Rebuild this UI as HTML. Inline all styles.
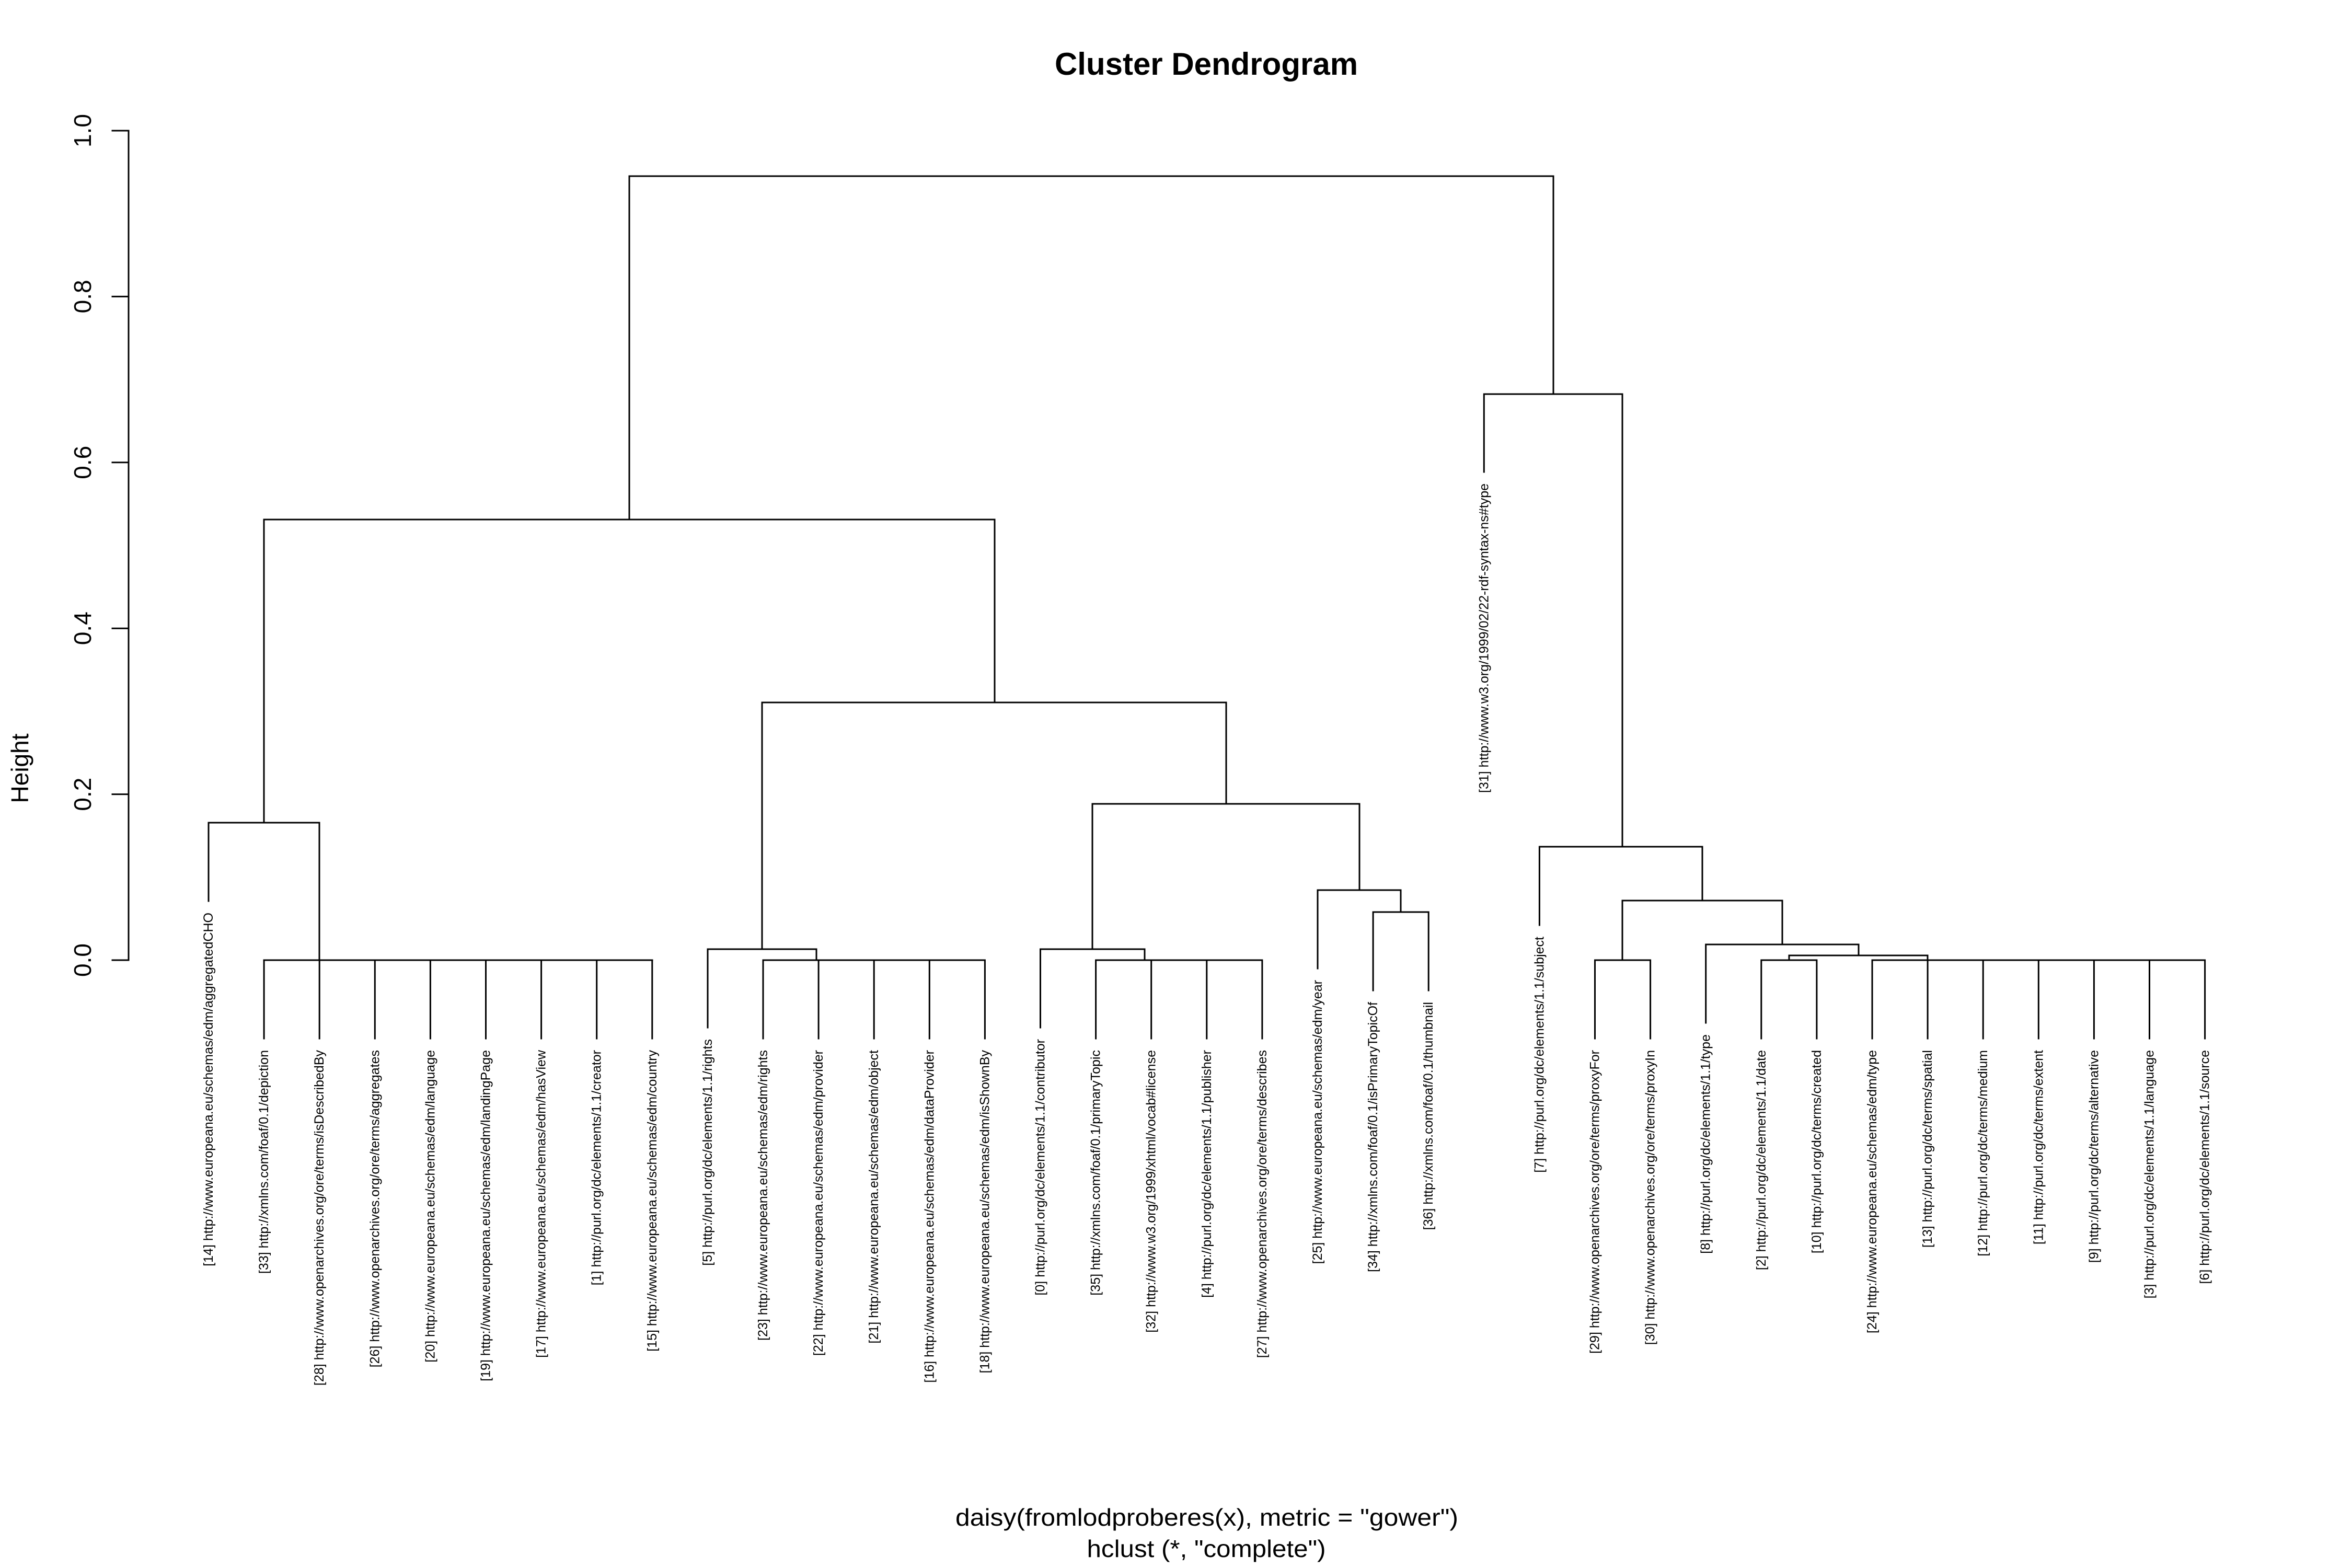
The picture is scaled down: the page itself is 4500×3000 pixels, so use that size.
<!DOCTYPE html>
<html><head><meta charset="utf-8"><style>
html,body{margin:0;padding:0;background:#fff;}
svg{display:block;}
text{font-family:"Liberation Sans",Arial,sans-serif;fill:#000;}
.lf{font-size:25px;}
</style></head><body>
<svg width="4500" height="3000" viewBox="0 0 4500 3000" xmlns="http://www.w3.org/2000/svg">
<rect width="4500" height="3000" fill="#fff"/>
<text x="2308" y="143" font-size="60" font-weight="bold" text-anchor="middle">Cluster Dendrogram</text>
<g stroke="#000" stroke-width="3" fill="none" stroke-linecap="square">
<!-- axis -->
<path d="M246 250V1837 M215 250H246 M215 567.4H246 M215 884.8H246 M215 1202.2H246 M215 1519.6H246 M215 1837H246"/>
<!-- left cluster -->
<path d="M505 1837H1248 M505.1 1837V1987 M611.2 1837V1987 M717.3 1837V1987 M823.4 1837V1987 M929.5 1837V1987 M1035.6 1837V1987 M1141.7 1837V1987 M1247.8 1837V1987"/>
<path d="M611 1837V1574 M399 1574H611 M399 1574V1724 M505 1574V994"/>
<!-- B -->
<path d="M1460 1837H1884.4 M1460 1837V1987 M1566.1 1837V1987 M1672.2 1837V1987 M1778.3 1837V1987 M1884.4 1837V1987 M1562 1837V1816 M1354 1816H1562 M1354 1816V1966 M1458 1816V1344"/>
<!-- C -->
<path d="M2096.6 1837H2414.9 M2096.6 1837V1987 M2202.7 1837V1987 M2308.8 1837V1987 M2414.9 1837V1987 M2190 1837V1816 M1990.5 1816H2190 M1990.5 1816V1966 M2090 1816V1538"/>
<!-- D -->
<path d="M2627.1 1745H2733.2 M2627.1 1745V1895 M2733.2 1745V1895 M2680 1745V1703 M2521 1703H2680 M2521 1703V1853 M2601 1703V1538"/>
<path d="M2090 1538H2601 M2346 1538V1344 M1458 1344H2346 M1903 1344V994 M505 994H1903 M1204 994V337 M1204 337H2972 M2972 337V754"/>
<!-- right -->
<path d="M2839.3 754H3104 M2839.3 754V903 M3104 754V1620 M2945.4 1620H3257 M2945.4 1620V1770 M3257 1620V1723 M3104 1723H3410 M3104 1723V1837 M3051.5 1837H3157.6 M3051.5 1837V1987 M3157.6 1837V1987"/>
<path d="M3410 1723V1807 M3263.7 1807H3556 M3263.7 1807V1957 M3556 1807V1828 M3423 1828H3688 M3423 1828V1837 M3369.8 1837H3475.9 M3369.8 1837V1987 M3475.9 1837V1987"/>
<path d="M3688 1828V1837 M3582 1837H4218.6 M3582 1837V1987 M3688.1 1837V1987 M3794.2 1837V1987 M3900.3 1837V1987 M4006.4 1837V1987 M4112.5 1837V1987 M4218.6 1837V1987"/>
</g>
<!-- tick labels -->
<g font-size="46" text-anchor="middle">
<text transform="translate(174,250) rotate(-90)">1.0</text>
<text transform="translate(174,567.4) rotate(-90)">0.8</text>
<text transform="translate(174,884.8) rotate(-90)">0.6</text>
<text transform="translate(174,1202.2) rotate(-90)">0.4</text>
<text transform="translate(174,1519.6) rotate(-90)">0.2</text>
<text transform="translate(174,1837) rotate(-90)">0.0</text>
<text transform="translate(54,1470) rotate(-90)">Height</text>
</g>
<g class="lf" text-anchor="end">
<text transform="translate(407,1746) rotate(-90)">[14] http://www.europeana.eu/schemas/edm/aggregatedCHO</text>
<text transform="translate(513.1,2009) rotate(-90)">[33] http://xmlns.com/foaf/0.1/depiction</text>
<text transform="translate(619.2,2009) rotate(-90)">[28] http://www.openarchives.org/ore/terms/isDescribedBy</text>
<text transform="translate(725.3,2009) rotate(-90)">[26] http://www.openarchives.org/ore/terms/aggregates</text>
<text transform="translate(831.4,2009) rotate(-90)">[20] http://www.europeana.eu/schemas/edm/language</text>
<text transform="translate(937.5,2009) rotate(-90)">[19] http://www.europeana.eu/schemas/edm/landingPage</text>
<text transform="translate(1043.6,2009) rotate(-90)">[17] http://www.europeana.eu/schemas/edm/hasView</text>
<text transform="translate(1149.7,2009) rotate(-90)">[1] http://purl.org/dc/elements/1.1/creator</text>
<text transform="translate(1255.8,2009) rotate(-90)">[15] http://www.europeana.eu/schemas/edm/country</text>
<text transform="translate(1361.9,1988) rotate(-90)">[5] http://purl.org/dc/elements/1.1/rights</text>
<text transform="translate(1468,2009) rotate(-90)">[23] http://www.europeana.eu/schemas/edm/rights</text>
<text transform="translate(1574.1,2009) rotate(-90)">[22] http://www.europeana.eu/schemas/edm/provider</text>
<text transform="translate(1680.2,2009) rotate(-90)">[21] http://www.europeana.eu/schemas/edm/object</text>
<text transform="translate(1786.3,2009) rotate(-90)">[16] http://www.europeana.eu/schemas/edm/dataProvider</text>
<text transform="translate(1892.4,2009) rotate(-90)">[18] http://www.europeana.eu/schemas/edm/isShownBy</text>
<text transform="translate(1998.5,1988) rotate(-90)">[0] http://purl.org/dc/elements/1.1/contributor</text>
<text transform="translate(2104.6,2009) rotate(-90)">[35] http://xmlns.com/foaf/0.1/primaryTopic</text>
<text transform="translate(2210.7,2009) rotate(-90)">[32] http://www.w3.org/1999/xhtml/vocab#license</text>
<text transform="translate(2316.8,2009) rotate(-90)">[4] http://purl.org/dc/elements/1.1/publisher</text>
<text transform="translate(2422.9,2009) rotate(-90)">[27] http://www.openarchives.org/ore/terms/describes</text>
<text transform="translate(2529,1875) rotate(-90)">[25] http://www.europeana.eu/schemas/edm/year</text>
<text transform="translate(2635.1,1917) rotate(-90)">[34] http://xmlns.com/foaf/0.1/isPrimaryTopicOf</text>
<text transform="translate(2741.2,1917) rotate(-90)">[36] http://xmlns.com/foaf/0.1/thumbnail</text>
<text transform="translate(2847.3,925) rotate(-90)">[31] http://www.w3.org/1999/02/22-rdf-syntax-ns#type</text>
<text transform="translate(2953.4,1792) rotate(-90)">[7] http://purl.org/dc/elements/1.1/subject</text>
<text transform="translate(3059.5,2009) rotate(-90)">[29] http://www.openarchives.org/ore/terms/proxyFor</text>
<text transform="translate(3165.6,2009) rotate(-90)">[30] http://www.openarchives.org/ore/terms/proxyIn</text>
<text transform="translate(3271.7,1979) rotate(-90)">[8] http://purl.org/dc/elements/1.1/type</text>
<text transform="translate(3377.8,2009) rotate(-90)">[2] http://purl.org/dc/elements/1.1/date</text>
<text transform="translate(3483.9,2009) rotate(-90)">[10] http://purl.org/dc/terms/created</text>
<text transform="translate(3590,2009) rotate(-90)">[24] http://www.europeana.eu/schemas/edm/type</text>
<text transform="translate(3696.1,2009) rotate(-90)">[13] http://purl.org/dc/terms/spatial</text>
<text transform="translate(3802.2,2009) rotate(-90)">[12] http://purl.org/dc/terms/medium</text>
<text transform="translate(3908.3,2009) rotate(-90)">[11] http://purl.org/dc/terms/extent</text>
<text transform="translate(4014.4,2009) rotate(-90)">[9] http://purl.org/dc/terms/alternative</text>
<text transform="translate(4120.5,2009) rotate(-90)">[3] http://purl.org/dc/elements/1.1/language</text>
<text transform="translate(4226.6,2009) rotate(-90)">[6] http://purl.org/dc/elements/1.1/source</text>
</g>
<text x="2309" y="2919" font-size="46" text-anchor="middle" textLength="962" lengthAdjust="spacingAndGlyphs">daisy(fromlodproberes(x), metric = "gower")</text>
<text x="2308" y="2979" font-size="46" text-anchor="middle" textLength="457" lengthAdjust="spacingAndGlyphs">hclust (*, "complete")</text>
</svg>
</body></html>
